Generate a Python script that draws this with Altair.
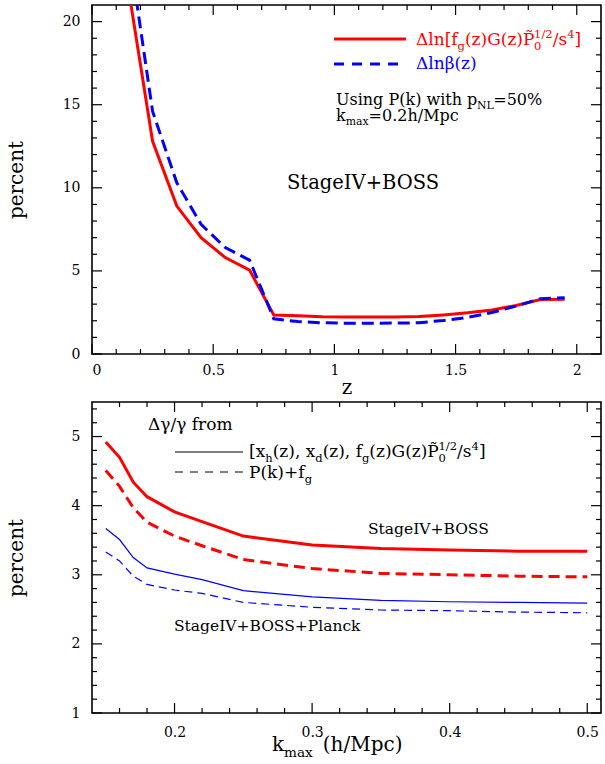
import altair as alt
import pandas as pd
import numpy as np

# ---------------- data ----------------
# top panel: percent error vs redshift z
z_vals = [0.15, 0.25, 0.35, 0.45, 0.55, 0.65, 0.75, 0.85, 0.95, 1.05,
          1.15, 1.25, 1.35, 1.45, 1.55, 1.65, 1.75, 1.85, 1.95]
fgG_err = [22.0, 12.8, 8.9, 7.0, 5.8, 5.05, 2.35, 2.30, 2.24, 2.23,
           2.23, 2.23, 2.25, 2.35, 2.48, 2.65, 2.92, 3.28, 3.30]
beta_err = [24.6, 14.6, 10.3, 7.8, 6.4, 5.65, 2.12, 1.95, 1.88, 1.85,
            1.85, 1.86, 1.88, 2.02, 2.20, 2.50, 2.88, 3.33, 3.38]

# bottom panel: percent error on gamma vs k_max
kmax_vals = [0.15, 0.16, 0.17, 0.18, 0.20, 0.22, 0.25, 0.30, 0.35, 0.40, 0.45, 0.50]
boss_xh = [4.92, 4.70, 4.34, 4.13, 3.91, 3.77, 3.56, 3.43, 3.38, 3.36, 3.34, 3.34]
boss_pk = [4.51, 4.28, 3.97, 3.76, 3.56, 3.42, 3.22, 3.09, 3.02, 3.00, 2.98, 2.97]
planck_xh = [3.67, 3.51, 3.25, 3.10, 3.01, 2.93, 2.77, 2.68, 2.63, 2.61, 2.60, 2.59]
planck_pk = [3.33, 3.20, 2.98, 2.86, 2.78, 2.73, 2.60, 2.53, 2.49, 2.48, 2.46, 2.45]

top_y_labels = [0, 5, 10, 15, 20]
top_x_labels = [0, 0.5, 1, 1.5, 2]
bot_y_labels = [1, 2, 3, 4, 5]
bot_x_labels = [0.2, 0.3, 0.4, 0.5]

# ---------------- geometry ----------------
W = 509
H1 = 349
H2 = 311
X1 = [0, 2.1]
Y1 = [0, 21]
X2 = [0.14, 0.51]
Y2 = [1, 5.5]
LEFT = 96
TOP1 = 4
TOP2 = 402
FONT = "DejaVu Serif"
RED = "#ff0000"
BLUE = "#0000ff"

xs1 = alt.Scale(domain=X1, nice=False, zero=False)
ys1 = alt.Scale(domain=Y1, nice=False, zero=False)
xs2 = alt.Scale(domain=X2, nice=False, zero=False)
ys2 = alt.Scale(domain=Y2, nice=False, zero=False)

top_xaxis = alt.Axis(values=top_x_labels, format='~g', title='z', titleFontSize=20,
                     titlePadding=0, labelPadding=9)
top_yaxis = alt.Axis(values=top_y_labels, title='percent', titleFontSize=20,
                     titleX=-76, titleY=H1 / 2, titleBaseline='middle', titleAlign='center',
                     labelPadding=12)
bot_xaxis = alt.Axis(values=bot_x_labels, format='.1f', title=None, labelPadding=12)
bot_yaxis = alt.Axis(values=bot_y_labels, title='percent', titleFontSize=20,
                     titleX=-76, titleY=H2 / 2, titleBaseline='middle', titleAlign='center',
                     labelPadding=12)


def to_data(px, py, g):
    xd, yd, top, h = g['xd'], g['yd'], g['top'], g['h']
    x = xd[0] + (px - LEFT) * (xd[1] - xd[0]) / W
    y = yd[1] - (py - top) * (yd[1] - yd[0]) / h
    return x, y


# ---------------- rich text helper ----------------
CW = {' ': 0.318, '(': 0.390, ')': 0.390, '[': 0.390, ']': 0.390, ',': 0.318,
      '.': 0.318, '/': 0.337, '+': 0.838, '=': 0.838, '%': 0.950,
      'a': 0.596, 'b': 0.640, 'c': 0.560, 'd': 0.640, 'e': 0.592, 'f': 0.370,
      'g': 0.640, 'h': 0.644, 'i': 0.320, 'k': 0.605, 'l': 0.320, 'm': 0.948,
      'n': 0.644, 'o': 0.602, 'p': 0.640, 'r': 0.478, 's': 0.513, 't': 0.402,
      'u': 0.644, 'w': 0.856, 'x': 0.564, 'z': 0.525,
      'A': 0.722, 'B': 0.732, 'G': 0.775, 'I': 0.365, 'L': 0.653, 'M': 0.995,
      'N': 0.837, 'O': 0.787, 'P': 0.683, 'S': 0.685, 'U': 0.812, 'V': 0.722,
      '\u0394': 0.720, '\u03b2': 0.640, '\u03b3': 0.570, '\u0303': 0.0}
for d in "0123456789":
    CW[d] = 0.636


def tw(s, size):
    return sum(CW.get(c, 0.6) for c in s) * size


def rich(parts, px, py, size, color):
    rows = []
    cx = px
    small = size * 0.68
    for kind, txt in parts:
        if kind == 'n':
            rows.append((cx, py, txt, size, color))
            cx += tw(txt, size)
        elif kind == 'gap':
            cx += txt
        elif kind == 'sub':
            rows.append((cx, py + 0.28 * size, txt, small, color))
            cx += tw(txt, small)
        elif kind == 'sup':
            rows.append((cx, py - 0.40 * size, txt, small, color))
            cx += tw(txt, small)
        else:
            sub, sup = txt
            rows.append((cx, py + 0.28 * size, sub, small, color))
            rows.append((cx, py - 0.40 * size, sup, small, color))
            cx += max(tw(sub, small), tw(sup, small))
    return rows


def X(g):
    return alt.X('x:Q', scale=g['xs'], axis=g['xa'])


def Y(g):
    return alt.Y('y:Q', scale=g['ys'], axis=g['ya'])


def text_layer(rows, g):
    recs = []
    for px, py, t, s, c in rows:
        x, y = to_data(px, py, g)
        recs.append({'x': x, 'y': y, 'text': t, 'size': s, 'color': c})
    df = pd.DataFrame(recs)
    return alt.Chart(df).mark_text(align='left', baseline='alphabetic', font=FONT).encode(
        x=X(g), y=Y(g),
        text='text:N',
        size=alt.Size('size:Q', scale=None, legend=None),
        color=alt.Color('color:N', scale=None),
    )


def seg_layer(px0, px1, py, color, width, dash, g):
    x0, y0 = to_data(px0, py, g)
    x1, _ = to_data(px1, py, g)
    df = pd.DataFrame({'x': [x0], 'x2': [x1], 'y': [y0]})
    kw = dict(color=color, strokeWidth=width)
    if dash:
        kw['strokeDash'] = dash
    return alt.Chart(df).mark_rule(**kw).encode(x=X(g), x2='x2:Q', y=Y(g))


def tick_layers(xmaj, xmin, ymaj, ymin, g):
    L = []
    h = g['h']
    for vals, ln in ((ymaj, 10), (ymin, 5)):
        d = pd.DataFrame({'y': vals})
        base = alt.Chart(d).mark_rule(color='black', strokeWidth=1.2)
        L.append(base.encode(y=Y(g), x=alt.value(0), x2=alt.value(ln)))
        L.append(base.encode(y=Y(g), x=alt.value(W), x2=alt.value(W - ln)))
    for vals, ln in ((xmaj, 10), (xmin, 5)):
        d = pd.DataFrame({'x': vals})
        base = alt.Chart(d).mark_rule(color='black', strokeWidth=1.2)
        L.append(base.encode(x=X(g), y=alt.value(0), y2=alt.value(ln)))
        L.append(base.encode(x=X(g), y=alt.value(h), y2=alt.value(h - ln)))
    return L


def line(xv, yv, color, width, dash, g):
    df = pd.DataFrame({'x': xv, 'y': yv})
    kw = dict(color=color, strokeWidth=width, clip=True)
    if dash:
        kw['strokeDash'] = dash
    return alt.Chart(df).mark_line(**kw).encode(x=X(g), y=Y(g))


g1 = dict(xd=X1, yd=Y1, top=TOP1, h=H1, xs=xs1, ys=ys1, xa=top_xaxis, ya=top_yaxis)
g2 = dict(xd=X2, yd=Y2, top=TOP2, h=H2, xs=xs2, ys=ys2, xa=bot_xaxis, ya=bot_yaxis)

# ---------------- top panel ----------------
top_layers = [
    line(z_vals, fgG_err, RED, 3, None, g1),
    line(z_vals, beta_err, BLUE, 3, [12, 6], g1),
]
tx_min = [v for v in np.round(np.arange(0.1, 2.05, 0.1), 2) if abs(round(v * 2) - v * 2) > 1e-6]
ty_min = [v for v in range(1, 21) if v % 5]
top_layers += tick_layers(top_x_labels, tx_min, top_y_labels, ty_min, g1)
top_layers.append(seg_layer(338, 410, 38, RED, 3, None, g1))
top_layers.append(seg_layer(338, 410, 63, BLUE, 3, [10, 8], g1))
rows1 = []
rows1 += rich([('n', '\u0394ln[f'), ('sub', 'g'), ('n', '(z)G(z)P\u0303'), ('subsup', ('0', '1/2')),
               ('n', '/s'), ('sup', '4'), ('n', ']')], 420, 44, 17, RED)
rows1 += rich([('n', '\u0394ln\u03b2(z)')], 420, 68, 17, BLUE)
rows1 += rich([('n', 'Using P(k) with p'), ('sub', 'NL'), ('n', '=50%')], 340, 104, 16, 'black')
rows1 += rich([('n', 'k'), ('sub', 'max'), ('n', '=0.2h/Mpc')], 340, 120, 16, 'black')
rows1 += rich([('n', 'StageIV+BOSS')], 291, 188, 19.5, 'black')
top_layers.append(text_layer(rows1, g1))

top = alt.layer(*top_layers).properties(width=W, height=H1)

# ---------------- bottom panel ----------------
bot_layers = [
    line(kmax_vals, boss_xh, RED, 3, None, g2),
    line(kmax_vals, boss_pk, RED, 3, [11, 6], g2),
    line(kmax_vals, planck_xh, BLUE, 1.2, None, g2),
    line(kmax_vals, planck_pk, BLUE, 1.2, [8, 5], g2),
]
bx_min = [v for v in np.round(np.arange(0.16, 0.51, 0.02), 2) if abs(round(v * 10) - v * 10) > 1e-6]
by_min = [v for v in np.round(np.arange(1.2, 5.45, 0.2), 2) if abs(round(v) - v) > 1e-6]
bot_layers += tick_layers(bot_x_labels, bx_min, bot_y_labels, by_min, g2)
bot_layers.append(seg_layer(179, 247, 452, 'black', 1, None, g2))
bot_layers.append(seg_layer(179, 247, 472, 'black', 1, [8, 7], g2))
rows2 = []
rows2 += rich([('n', '\u0394\u03b3/\u03b3 from')], 152, 430, 17, 'black')
rows2 += rich([('n', '[x'), ('sub', 'h'), ('n', '(z), x'), ('sub', 'd'), ('n', '(z), f'), ('sub', 'g'),
               ('n', '(z)G(z)P\u0303'), ('subsup', ('0', '1/2')), ('n', '/s'), ('sup', '4'), ('n', ']')],
              253, 457, 17, 'black')
rows2 += rich([('n', 'P(k)+f'), ('sub', 'g')], 253, 478, 17, 'black')
rows2 += rich([('n', 'StageIV+BOSS')], 372, 534, 15.5, 'black')
rows2 += rich([('n', 'StageIV+BOSS+Planck')], 178, 631, 15.5, 'black')
rows2 += rich([('n', 'k'), ('sub', 'max'), ('gap', 10), ('n', '(h/Mpc)')], 276, 751, 20, 'black')
bot_layers.append(text_layer(rows2, g2))

bottom = alt.layer(*bot_layers).properties(width=W, height=H2)

chart = alt.vconcat(top, bottom, spacing=2).properties(
    padding={"left": 5, "top": 3, "right": 0, "bottom": 0}
).configure_view(
    stroke='black', strokeWidth=1.6
).configure_axis(
    labelFont=FONT, labelFontSize=14, labelColor='black',
    titleFont=FONT, titleColor='black', titleFontWeight='normal',
    ticks=False, tickSize=0, domain=False, grid=False
)

chart.save("out.html", embed_options={"renderer": "svg", "actions": False})
